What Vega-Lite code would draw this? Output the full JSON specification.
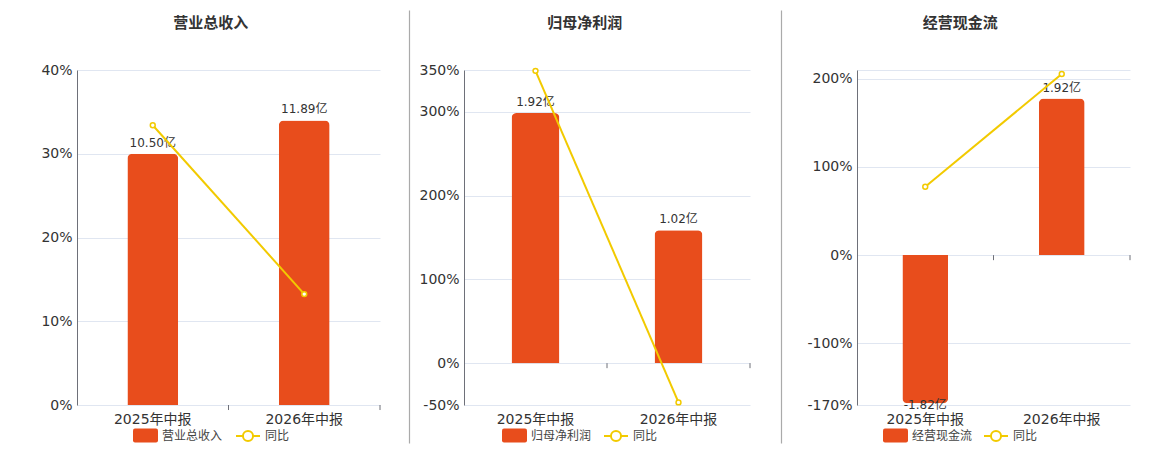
{
  "$schema": "https://vega.github.io/schema/vega-lite/v6.json",
  "padding": {"left": 40, "top": 10, "right": 0, "bottom": 0},
  "spacing": 5,
  "hconcat": [
    {
      "title": {"text": "营业总收入"},
      "width": 303,
      "height": 335,
      "data": {"values": [
        {"period": "2025年中报", "value": 10.50, "label": "10.50亿", "yoy": 33.4},
        {"period": "2026年中报", "value": 11.89, "label": "11.89亿", "yoy": 13.24}
      ]},
      "encoding": {
        "x": {"field": "period", "type": "nominal", "sort": ["2025年中报", "2026年中报"], "scale": {"paddingInner": 0, "paddingOuter": 0},
          "axis": {"title": null, "orient": "bottom", "domain": false, "ticks": false, "labelAngle": 0, "labelFontSize": 14, "labelColor": "#333", "labelPadding": 7, "grid": false}}
      },
      "layer": [
        {
          "layer": [
            {
              "mark": {"type": "bar", "width": {"band": 0.335}, "cornerRadiusTopLeft": 5, "cornerRadiusTopRight": 5},
              "encoding": {
                "y": {"field": "value", "type": "quantitative", "scale": {"domain": [0, 14], "nice": false}, "axis": null},
                "fill": {"datum": "营业总收入", "scale": {"range": ["#e84d1c"]},
                  "legend": {"title": null, "orient": "none", "legendX": 56, "legendY": 353, "symbolType": "M-0.84,-0.56H0.84Q1,-0.56,1,-0.4V0.4Q1,0.56,0.84,0.56H-0.84Q-1,0.56,-1,0.4V-0.4Q-1,-0.56,-0.84,-0.56Z", "symbolSize": 625, "symbolStrokeWidth": 0}}
              }
            },
            {
              "mark": {"type": "text", "baseline": "bottom", "dy": -4, "fontSize": 12, "color": "#333"},
              "encoding": {
                "y": {"field": "value", "type": "quantitative", "axis": null},
                "text": {"field": "label"}
              }
            }
          ]
        },
        {
          "layer": [
            {
              "mark": {"type": "rule", "color": "#6e7079", "strokeWidth": 1.5},
              "encoding": {"y": {"datum": 0, "type": "quantitative", "scale": {"domain": [0, 40], "nice": false},
                "axis": {"title": null, "orient": "left", "values": [0, 10, 20, 30, 40], "labelExpr": "datum.value + '%'", "grid": true, "gridColor": "#e0e6f1", "domainColor": "#6e7079", "ticks": false, "tickSize": 0, "labelPadding": 5, "labelFontSize": 14, "labelColor": "#333", "labelOverlap": false, "labelFlush": false}}}
            },
            {
              "mark": {"type": "rule", "color": "#6e7079", "strokeWidth": 1},
              "encoding": {
                "x": {"field": "period", "type": "nominal", "sort": ["2025年中报", "2026年中报"], "bandPosition": 1},
                "y": {"datum": 0, "type": "quantitative"},
                "y2": {"datum": -0.6}
              }
            },
            {
              "mark": {"type": "line", "strokeWidth": 2, "point": {"filled": false, "fill": "white", "size": 24, "strokeWidth": 1.5}},
              "encoding": {
                "y": {"field": "yoy", "type": "quantitative"},
                "stroke": {"datum": "同比", "scale": {"range": ["#f2ca00"]},
                  "legend": {"title": null, "orient": "none", "legendX": 158, "legendY": 353, "symbolType": "M-1,0H-0.42M0.42,0H1M0.42,0A0.42,0.42,0,1,1,-0.42,0A0.42,0.42,0,1,1,0.42,0", "symbolSize": 576, "symbolStrokeWidth": 2, "symbolFillColor": "white"}}
              }
            }
          ]
        }
      ],
      "resolve": {"scale": {"y": "independent"}}
    },
    {
      "width": 1,
      "height": 433,
      "data": {"values": [{"a": 0}]},
      "mark": {"type": "point", "opacity": 0},
      "encoding": {"y": {"field": "a", "type": "quantitative", "axis": {"position": -60, "minExtent": 23, "labels": false, "ticks": false, "grid": false, "domain": true, "domainColor": "#aaa", "domainWidth": 1.2, "title": null}}}
    },
    {
      "title": {"text": "归母净利润"},
      "width": 286,
      "height": 335,
      "data": {"values": [
        {"period": "2025年中报", "value": 1.92, "label": "1.92亿", "yoy": 349},
        {"period": "2026年中报", "value": 1.02, "label": "1.02亿", "yoy": -46.88}
      ]},
      "encoding": {
        "x": {"field": "period", "type": "nominal", "sort": ["2025年中报", "2026年中报"], "scale": {"paddingInner": 0, "paddingOuter": 0},
          "axis": {"title": null, "orient": "bottom", "domain": false, "ticks": false, "labelAngle": 0, "labelFontSize": 14, "labelColor": "#333", "labelPadding": 7, "grid": false}}
      },
      "layer": [
        {
          "layer": [
            {
              "mark": {"type": "bar", "width": {"band": 0.335}, "cornerRadiusTopLeft": 5, "cornerRadiusTopRight": 5},
              "encoding": {
                "y": {"field": "value", "type": "quantitative", "scale": {"domain": [-0.3214, 2.25], "nice": false}, "axis": null},
                "fill": {"datum": "归母净利润", "scale": {"range": ["#e84d1c"]},
                  "legend": {"title": null, "orient": "none", "legendX": 38, "legendY": 353, "symbolType": "M-0.84,-0.56H0.84Q1,-0.56,1,-0.4V0.4Q1,0.56,0.84,0.56H-0.84Q-1,0.56,-1,0.4V-0.4Q-1,-0.56,-0.84,-0.56Z", "symbolSize": 625, "symbolStrokeWidth": 0}}
              }
            },
            {
              "mark": {"type": "text", "baseline": "bottom", "dy": -4, "fontSize": 12, "color": "#333"},
              "encoding": {
                "y": {"field": "value", "type": "quantitative", "axis": null},
                "text": {"field": "label"}
              }
            }
          ]
        },
        {
          "layer": [
            {
              "mark": {"type": "rule", "color": "#6e7079", "strokeWidth": 1.5},
              "encoding": {"y": {"datum": 0, "type": "quantitative", "scale": {"domain": [-50, 350], "nice": false},
                "axis": {"title": null, "orient": "left", "values": [-50, 0, 100, 200, 300, 350], "labelExpr": "datum.value + '%'", "grid": true, "gridColor": "#e0e6f1", "domainColor": "#6e7079", "ticks": false, "tickSize": 0, "labelPadding": 5, "labelFontSize": 14, "labelColor": "#333", "labelOverlap": false, "labelFlush": false}}}
            },
            {
              "mark": {"type": "rule", "color": "#6e7079", "strokeWidth": 1},
              "encoding": {
                "x": {"field": "period", "type": "nominal", "sort": ["2025年中报", "2026年中报"], "bandPosition": 1},
                "y": {"datum": 0, "type": "quantitative"},
                "y2": {"datum": -6}
              }
            },
            {
              "mark": {"type": "line", "strokeWidth": 2, "point": {"filled": false, "fill": "white", "size": 24, "strokeWidth": 1.5}},
              "encoding": {
                "y": {"field": "yoy", "type": "quantitative"},
                "stroke": {"datum": "同比", "scale": {"range": ["#f2ca00"]},
                  "legend": {"title": null, "orient": "none", "legendX": 139, "legendY": 353, "symbolType": "M-1,0H-0.42M0.42,0H1M0.42,0A0.42,0.42,0,1,1,-0.42,0A0.42,0.42,0,1,1,0.42,0", "symbolSize": 576, "symbolStrokeWidth": 2, "symbolFillColor": "white"}}
              }
            }
          ]
        }
      ],
      "resolve": {"scale": {"y": "independent"}}
    },
    {
      "width": 1,
      "height": 433,
      "data": {"values": [{"a": 0}]},
      "mark": {"type": "point", "opacity": 0},
      "encoding": {"y": {"field": "a", "type": "quantitative", "axis": {"position": -60, "minExtent": 25, "labels": false, "ticks": false, "grid": false, "domain": true, "domainColor": "#aaa", "domainWidth": 1.2, "title": null}}}
    },
    {
      "title": {"text": "经营现金流"},
      "width": 273,
      "height": 335,
      "data": {"values": [
        {"period": "2025年中报", "value": -1.82, "label": "-1.82亿", "yoy": 77.6},
        {"period": "2026年中报", "value": 1.92, "label": "1.92亿", "yoy": 205.5}
      ]},
      "encoding": {
        "x": {"field": "period", "type": "nominal", "sort": ["2025年中报", "2026年中报"], "scale": {"paddingInner": 0, "paddingOuter": 0},
          "axis": {"title": null, "orient": "bottom", "domain": false, "ticks": false, "labelAngle": 0, "labelFontSize": 14, "labelColor": "#333", "labelPadding": 7, "grid": false}}
      },
      "layer": [
        {
          "layer": [
            {
              "transform": [{"filter": "datum.value >= 0"}],
              "mark": {"type": "bar", "width": {"band": 0.335}, "cornerRadiusTopLeft": 5, "cornerRadiusTopRight": 5},
              "encoding": {
                "y": {"field": "value", "type": "quantitative", "scale": {"domain": [-1.84, 2.27], "nice": false}, "axis": null},
                "fill": {"datum": "经营现金流", "scale": {"range": ["#e84d1c"]},
                  "legend": {"title": null, "orient": "none", "legendX": 26, "legendY": 353, "symbolType": "M-0.84,-0.56H0.84Q1,-0.56,1,-0.4V0.4Q1,0.56,0.84,0.56H-0.84Q-1,0.56,-1,0.4V-0.4Q-1,-0.56,-0.84,-0.56Z", "symbolSize": 625, "symbolStrokeWidth": 0}}
              }
            },
            {
              "transform": [{"filter": "datum.value < 0"}],
              "mark": {"type": "bar", "width": {"band": 0.335}, "cornerRadiusBottomLeft": 5, "cornerRadiusBottomRight": 5},
              "encoding": {
                "y": {"field": "value", "type": "quantitative", "axis": null},
                "fill": {"datum": "经营现金流"}
              }
            },
            {
              "transform": [{"filter": "datum.value >= 0"}],
              "mark": {"type": "text", "baseline": "bottom", "dy": -4, "fontSize": 12, "color": "#333"},
              "encoding": {
                "y": {"field": "value", "type": "quantitative", "axis": null},
                "text": {"field": "label"}
              }
            },
            {
              "transform": [{"filter": "datum.value < 0"}],
              "mark": {"type": "text", "baseline": "top", "dy": -3.5, "fontSize": 12, "color": "#333"},
              "encoding": {
                "y": {"field": "value", "type": "quantitative", "axis": null},
                "text": {"field": "label"}
              }
            }
          ]
        },
        {
          "layer": [
            {
              "mark": {"type": "rule", "color": "#6e7079", "strokeWidth": 1.5},
              "encoding": {"y": {"datum": 0, "type": "quantitative", "scale": {"domain": [-170, 210], "nice": false},
                "axis": {"title": null, "orient": "left", "values": [-170, -100, 0, 100, 200, 210], "labelExpr": "datum.value + '%'", "labelOpacity": {"condition": {"test": "datum.value == 210", "value": 0}, "value": 1}, "grid": true, "gridColor": "#e0e6f1", "domainColor": "#6e7079", "ticks": false, "tickSize": 0, "labelPadding": 5, "labelFontSize": 14, "labelColor": "#333", "labelOverlap": false, "labelFlush": false, "minExtent": 67}}}
            },
            {
              "mark": {"type": "rule", "color": "#6e7079", "strokeWidth": 1},
              "encoding": {
                "x": {"field": "period", "type": "nominal", "sort": ["2025年中报", "2026年中报"], "bandPosition": 1},
                "y": {"datum": 0, "type": "quantitative"},
                "y2": {"datum": -5.7}
              }
            },
            {
              "mark": {"type": "line", "strokeWidth": 2, "point": {"filled": false, "fill": "white", "size": 24, "strokeWidth": 1.5}},
              "encoding": {
                "y": {"field": "yoy", "type": "quantitative"},
                "stroke": {"datum": "同比", "scale": {"range": ["#f2ca00"]},
                  "legend": {"title": null, "orient": "none", "legendX": 126, "legendY": 353, "symbolType": "M-1,0H-0.42M0.42,0H1M0.42,0A0.42,0.42,0,1,1,-0.42,0A0.42,0.42,0,1,1,0.42,0", "symbolSize": 576, "symbolStrokeWidth": 2, "symbolFillColor": "white"}}
              }
            }
          ]
        }
      ],
      "resolve": {"scale": {"y": "independent"}}
    }
  ],
  "resolve": {"scale": {"fill": "independent", "stroke": "independent"}, "legend": {"fill": "independent", "stroke": "independent"}},
  "config": {
    "font": "DejaVu Sans, Noto Sans CJK SC",
    "view": {"stroke": null},
    "title": {"fontSize": 15, "fontWeight": "bold", "color": "#333", "anchor": "middle", "frame": "bounds", "offset": 32, "font": "Noto Sans CJK SC"},
    "axis": {"labelFont": "DejaVu Sans, Noto Sans CJK SC"},
    "legend": {"labelFontSize": 12, "labelColor": "#444", "labelFont": "DejaVu Sans, Noto Sans CJK SC", "padding": 0}
  }
}
